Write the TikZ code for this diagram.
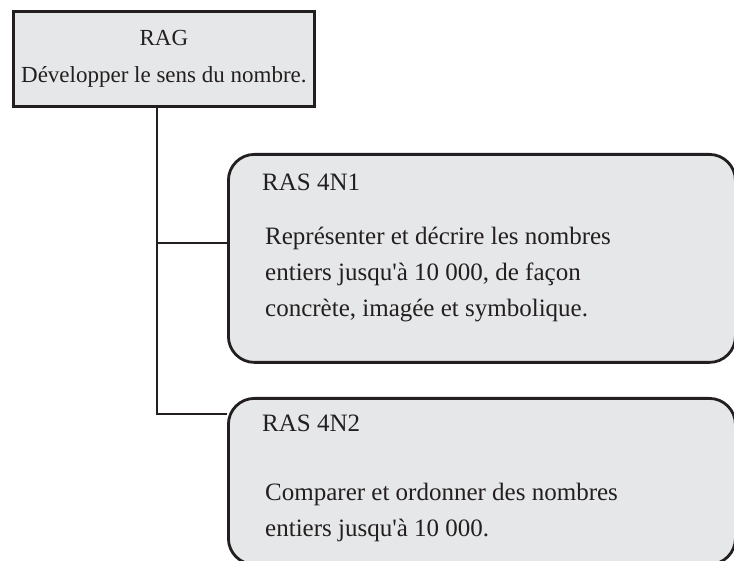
\documentclass[tikz,border=0pt]{standalone}
\usepackage{fontspec}
\setmainfont{Liberation Serif}
\usepackage{tikz}
\definecolor{boxgray}{HTML}{E6E7E8}
\definecolor{ink}{HTML}{231F20}
\begin{document}
\begin{tikzpicture}[x=1pt,y=-1pt]
          \tikzstyle{box} = [rectangle, draw=ink, fill=boxgray, line width=2.8pt, inner sep=0pt, anchor=north west]
          \tikzstyle{ras} = [box, rounded corners=26pt, minimum width=507pt]
          \tikzstyle{txt} = [anchor=north west, align=left, inner sep=0pt, text=ink, font=\fontsize{25}{36}\selectfont]
          \tikzstyle{link} = [draw=ink, line width=2.6pt]
        \useasboundingbox (0,0) rectangle (734,561);
        \clip (0,0) rectangle (734,561);
        \node[box, minimum width=301pt, inner ysep=19pt, align=center, text=ink, font=\fontsize{23}{37}\selectfont] (0) at (12,10) {RAG\\Développer le sens du nombre.};
        \node[ras, minimum height=208pt] (1) at (227,153) {};
        \node[ras, minimum height=166pt] (2) at (227,397) {};
        \node[txt] (1a) at ([xshift=35pt,yshift=-21pt]1.north west) {RAS 4N1};
        \node[txt] (1b) at ([xshift=38pt,yshift=-74pt]1.north west) {Représenter et décrire les nombres\\entiers jusqu\textquotesingle à 10~000, de façon\\concrète, imagée et symbolique.};
        \node[txt] (2a) at ([xshift=35pt,yshift=-18pt]2.north west) {RAS 4N2};
        \node[txt] (2b) at ([xshift=38pt,yshift=-86pt]2.north west) {Comparer et ordonner des nombres\\entiers jusqu\textquotesingle à 10~000.};
        \coordinate (3) at (157,414);
        \coordinate (b1) at ([yshift=-90pt]1.north west);
        \begin{scope}
          \draw[link] (0.south -| 3) -- (3) -- (3 -| 2.west);
          \draw[link] (b1 -| 3) -- (b1);
        \end{scope}
      \end{tikzpicture}
\end{document}
